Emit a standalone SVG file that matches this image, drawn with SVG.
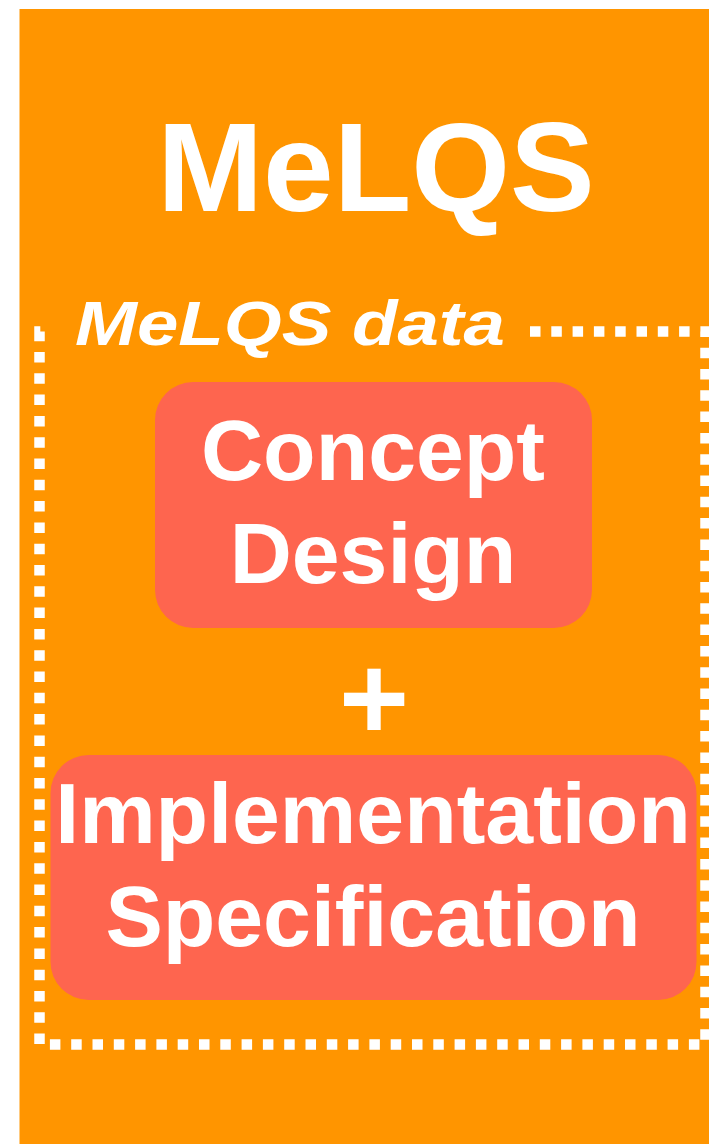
<svg xmlns="http://www.w3.org/2000/svg" width="709" height="1144" viewBox="0 0 709 1144">
<style>
.t{font-family:"Liberation Sans",Arial,sans-serif;font-weight:bold;fill:#fff}
.box{fill:#FE654F}
.dot{fill:none;stroke:#fff;stroke-width:10.5;stroke-dasharray:10.5 10.8}
</style>
<rect x="0" y="0" width="709" height="1144" fill="#fff"/>
<g id="background">
<rect x="19.5" y="9" width="690" height="1136" fill="#FF9500"/>
<text class="t" x="376" y="211" font-size="127" text-anchor="middle">MeLQS</text>
</g>
<g id="melqs-data">
<path class="dot" d="M530,331.5 H705.5 V1044.5 H39.5 V331.5 H50"/>
<text class="t" x="75" y="345" font-size="63" font-style="italic" textLength="430" lengthAdjust="spacingAndGlyphs">MeLQS data</text>
</g>
<g id="concept-design">
<rect class="box" x="155" y="382" width="437" height="246" rx="38"/>
<text class="t" x="373" y="480" font-size="86" text-anchor="middle">Concept</text>
<text class="t" x="373" y="583" font-size="86" text-anchor="middle">Design</text>
</g>
<g id="plus">
<text class="t" x="374" y="740" font-size="120" text-anchor="middle">+</text>
</g>
<g id="implementation-specification">
<rect class="box" x="50.5" y="755" width="646" height="245" rx="38"/>
<text class="t" x="373" y="843" font-size="86" text-anchor="middle">Implementation</text>
<text class="t" x="373" y="946" font-size="86" text-anchor="middle">Specification</text>
</g>
<g id="connectors"/>
</svg>
